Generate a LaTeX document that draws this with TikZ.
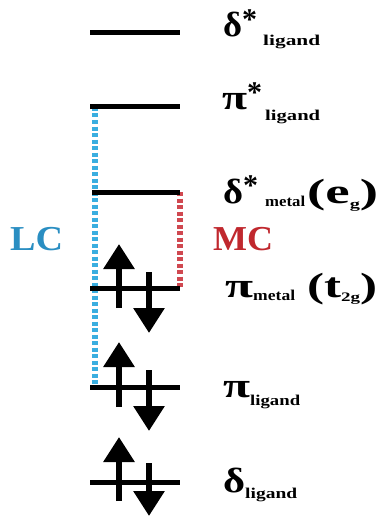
\documentclass[tikz,border=0pt]{standalone}
\usepackage{fontspec}
\setmainfont{Liberation Serif}
\usetikzlibrary{arrows.meta}
\definecolor{lcblue}{HTML}{2A8EC2}
\definecolor{lcdot}{HTML}{3AAEE0}
\definecolor{mcred}{HTML}{C0282E}
\definecolor{mcdot}{HTML}{D04850}
\tikzset{
  level/.style={line width=5pt},
  spin/.style={line width=6pt,-{Triangle[width=30pt,length=25pt]}},
  lab/.style={anchor=base west,inner sep=0pt,font=\fontsize{35}{35}\selectfont\bfseries},
  dotline/.style={line width=6pt,dash pattern=on 4pt off 2.5pt},
}
% fit content to width #1
\newcommand{\fitw}[2]{\resizebox{#1pt}{\height}{#2}}
% subscript: #1 lowering, #2 width, #3 text
\newcommand{\subl}[3]{\raisebox{-#1pt}{\fitw{#2}{\fontsize{15}{15}\selectfont #3}}}
\newcommand{\supa}[1]{\makebox[#1pt][l]{\raisebox{0.22em}{\fontsize{30}{30}\selectfont *}}}
\begin{document}
\begin{tikzpicture}[x=1pt,y=-1pt]
\useasboundingbox (0,0) rectangle (379,516);
% level end points
\coordinate (d1L) at (90,33);  \coordinate (d1R) at (180,33);
\coordinate (p1L) at (90,107); \coordinate (p1R) at (180,107);
\coordinate (d2L) at (92,192); \coordinate (d2R) at (180,192);
\coordinate (p2L) at (90,288); \coordinate (p2R) at (180,288);
\coordinate (p3L) at (90,387); \coordinate (p3R) at (180,387);
\coordinate (d3L) at (90,482); \coordinate (d3R) at (180,482);
\coordinate (bT) at (95,107); \coordinate (bB) at (95,387);
\coordinate (rT) at (180,192); \coordinate (rB) at (180,288);
% dotted transitions
\draw[dotline,lcdot] (bT) -- (bB);
\draw[dotline,mcdot] (rT) -- (rB);
% levels
\foreach \a in {d1,p1,d2,p2,p3,d3} \draw[level] (\a L) -- (\a R);
% spin arrows
\coordinate (u1a) at (119,308); \coordinate (u1b) at (119,244);
\coordinate (w1a) at (149,272); \coordinate (w1b) at (149,333);
\coordinate (u2a) at (119,407); \coordinate (u2b) at (119,342);
\coordinate (w2a) at (149,370); \coordinate (w2b) at (149,431);
\coordinate (u3a) at (119,501); \coordinate (u3b) at (119,437);
\coordinate (w3a) at (149,463); \coordinate (w3b) at (149,516);
\draw[spin] (u1a) -- (u1b);
\draw[spin] (w1a) -- (w1b);
\draw[spin] (u2a) -- (u2b);
\draw[spin] (w2a) -- (w2b);
\draw[spin] (u3a) -- (u3b);
\draw[spin] (w3a) -- (w3b);
% labels
\node[lab] (t1) at (223,37) {\fitw{19}{δ}\supa{21}\subl{9}{57}{ligand}};
\node[lab] (t2) at (222,110) {\fitw{25}{π}\supa{18}\subl{11}{55}{ligand}};
\node[lab] (t3) at (223,203) {\fitw{20}{δ}\supa{22}\subl{3}{40}{metal}};
\node[lab] (t3b) at (307,203) {\fitw{71}{(e\raisebox{-5pt}{\fontsize{13}{13}\selectfont g})}};
\node[lab] (t4) at (225,297) {\fitw{28}{π}\subl{3}{42}{metal}};
\node[lab] (t4b) at (307,297) {\fitw{70}{(t\raisebox{-4pt}{\fontsize{13}{13}\selectfont 2g})}};
\node[lab] (t5) at (223,397) {\fitw{27}{π}\subl{8}{50}{ligand}};
\node[lab] (t6) at (223,492) {\fitw{22}{δ}\subl{6}{52}{ligand}};
\node[lab,lcblue,font=\fontsize{35}{35}\selectfont\bfseries] (lc) at (10,250) {\fitw{53}{LC}};
\node[lab,mcred,font=\fontsize{35}{35}\selectfont\bfseries] (mc) at (213,250) {\fitw{60}{MC}};
\end{tikzpicture}
\end{document}
